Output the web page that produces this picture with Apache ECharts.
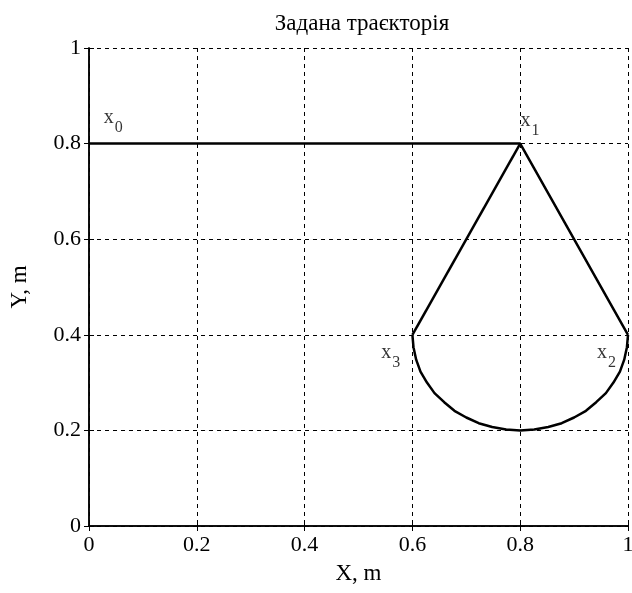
<!DOCTYPE html>
<html>
<head>
<meta charset="utf-8">
<script src="https://cdn.jsdelivr.net/npm/echarts@6/dist/echarts.min.js"></script>
<style>
  html, body { margin: 0; padding: 0; background: #fff; }
  #chart { width: 632px; height: 593px; }
</style>
</head>
<body>
<div id="chart"></div>
<script>
// ломана частина траєкторії: x0 -> x1 -> x2, та x3 -> x1
const pathA = [[0, 0.8], [0.8, 0.8], [1.0, 0.4]];
const pathB = [[0.6, 0.4], [0.8, 0.8]];
// дуга від x2 до x3 (точки)
const arcPts = [
  [1.0, 0.4], [0.998, 0.374], [0.993, 0.348], [0.985, 0.323], [0.973, 0.3],
  [0.959, 0.278], [0.941, 0.259], [0.922, 0.241], [0.9, 0.227], [0.877, 0.215],
  [0.852, 0.207], [0.826, 0.202], [0.8, 0.2], [0.774, 0.202], [0.748, 0.207],
  [0.723, 0.215], [0.7, 0.227], [0.678, 0.241], [0.659, 0.259], [0.641, 0.278],
  [0.627, 0.3], [0.615, 0.323], [0.607, 0.348], [0.602, 0.374], [0.6, 0.4]
];
// підписи точок
const pointLabels = [
  { name: '0', value: [0.045, 0.845] },
  { name: '1', value: [0.818, 0.84] },
  { name: '2', value: [0.96, 0.355] },
  { name: '3', value: [0.56, 0.355] }
];

const chart = echarts.init(document.getElementById('chart'));

const font = 'Liberation Serif, Times New Roman, serif';
const tickFmt = v => String(+v.toFixed(1));

const mainAxis = (name, gap, rot) => ({
  type: 'value', min: 0, max: 1, interval: 0.2,
  name: name, nameLocation: 'middle', nameGap: gap, nameRotate: rot,
  nameTextStyle: { fontFamily: font, fontSize: 23, color: '#000' },
  axisLine: { show: true, lineStyle: { color: '#000', width: 1.5 } },
  axisTick: { show: true, inside: true, length: 5, lineStyle: { color: '#000' } },
  axisLabel: { fontFamily: font, fontSize: 22, color: '#000', margin: 8, formatter: tickFmt },
  splitLine: { show: true, lineStyle: { color: '#000', type: [4, 4], width: 1 } }
});

const boxAxis = pos => ({
  type: 'value', min: 0, max: 1, interval: 0.2, position: pos,
  axisLine: { show: true, lineStyle: { color: '#000', width: 1.5 } },
  axisTick: { show: true, inside: true, length: 5, lineStyle: { color: '#000' } },
  axisLabel: { show: false },
  splitLine: { show: false }
});

chart.setOption({
  backgroundColor: '#fff',
  animation: false,
  title: {
    text: 'Задана траєкторія',
    left: 357,
    top: 7,
    textAlign: 'center',
    textStyle: { fontFamily: font, fontSize: 23, fontWeight: 'normal', color: '#000' }
  },
  grid: { left: 89, right: 4, top: 48, bottom: 67, outerBoundsMode: 'none' },
  xAxis: [mainAxis('X, m', 36, 0), boxAxis('top')],
  yAxis: [mainAxis('Y, m', 58, 90), boxAxis('right')],
  series: [
    {
      type: 'line', data: pathA, symbol: 'none',
      lineStyle: { color: '#000', width: 2.5 }
    },
    {
      type: 'line', data: pathB, symbol: 'none',
      lineStyle: { color: '#000', width: 2.5 }
    },
    {
      type: 'line', data: arcPts, symbol: 'none',
      lineStyle: { color: '#000', width: 2.5, join: 'round' }
    },
    {
      type: 'scatter', data: pointLabels, symbolSize: 0,
      label: {
        show: true, position: 'inside',
        formatter: p => '{x|x}{s|' + p.name + '}',
        rich: {
          x: { fontFamily: font, fontSize: 20, color: '#000', verticalAlign: 'top' },
          s: { fontFamily: font, fontSize: 16, color: '#000', padding: [12, 0, 0, 1] }
        }
      }
    }
  ]
});
</script>
</body>
</html>
